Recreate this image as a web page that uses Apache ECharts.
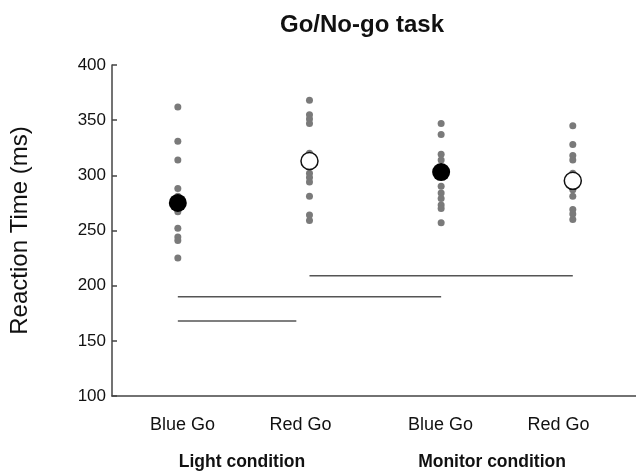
<!DOCTYPE html>
<html>
<head>
<meta charset="utf-8">
<script src="https://cdn.jsdelivr.net/npm/echarts@6/dist/echarts.min.js"></script>
<style>html,body{margin:0;padding:0;background:#fff}#c{width:636px;height:472px}</style>
</head>
<body>
<div id="c"></div>
<script>
// ---- data ----
var categories = ['Blue Go', 'Red Go', 'Blue Go', 'Red Go'];
var groups = ['Light condition', 'Monitor condition'];
var yTicks = [100, 150, 200, 250, 300, 350, 400];
var lightBlue = [362, 331, 314, 288, 281, 267, 252, 244, 241, 225];
var lightRed = [368, 355, 351, 347, 320, 302, 298, 294, 281, 264, 259];
var monitorBlue = [347, 337, 319, 314, 290, 284, 279, 273, 270, 257];
var monitorRed = [345, 328, 318, 314, 302, 287, 281, 269, 265, 260];
var means = [275, 313, 303, 295];
// comparison bars: [fromIndex, toIndex, value]
var bars = [[1, 3, 209], [0, 2, 190], [0, 0.9, 168]];

var individual = [lightBlue, lightRed, monitorBlue, monitorRed];
var FONT = 'Liberation Sans, Arial, sans-serif';

var series = [];
individual.forEach(function (arr, i) {
  series.push({
    type: 'scatter', xAxisIndex: 0, yAxisIndex: 0,
    symbolSize: 7, itemStyle: { color: '#7a7a7a', opacity: 1 },
    data: arr.map(function (v) { return [i, v]; }),
    z: 2
  });
});
bars.forEach(function (b) {
  series.push({
    type: 'line', xAxisIndex: 0, yAxisIndex: 0, symbol: 'none',
    lineStyle: { color: '#555', width: 1.5 },
    data: [[b[0], b[2]], [b[1], b[2]]], z: 1
  });
});
series.push({
  type: 'scatter', xAxisIndex: 0, yAxisIndex: 0, symbolSize: 18,
  itemStyle: { color: '#000', opacity: 1 },
  data: means.map(function (v, i) { return [i, v]; }).filter(function (d) { return d[0] % 2 === 0; }),
  z: 5
});
series.push({
  type: 'scatter', xAxisIndex: 0, yAxisIndex: 0, symbolSize: 17,
  itemStyle: { color: '#fff', borderColor: '#111', borderWidth: 1.5, opacity: 1 },
  data: means.map(function (v, i) { return [i, v]; }).filter(function (d) { return d[0] % 2 === 1; }),
  z: 5
});

var catPad = [[0, 0, 0, 10], [0, 16, 0, 0], [0, 0, 0, 2], [0, 24, 0, 0]];
var chart = echarts.init(document.getElementById('c'), null, { renderer: 'canvas' });
chart.setOption({
  animation: false,
  backgroundColor: '#fff',
  title: {
    text: 'Go/No-go task', left: 357, top: 8, textAlign: 'center',
    textStyle: { fontFamily: FONT, fontSize: 24, fontWeight: 'bold', color: '#111' }
  },
  grid: { left: 112, right: 0, top: 65, bottom: 76, containLabel: false },
  xAxis: [
    {
      type: 'value', min: -0.5, max: 3.48, position: 'bottom',
      axisLine: { show: true, onZero: false, lineStyle: { color: '#444', width: 1.5 } },
      axisTick: { show: false }, axisLabel: { show: false }, splitLine: { show: false }
    },
    {
      type: 'category', data: categories, position: 'bottom',
      axisLine: { show: false }, axisTick: { show: false }, splitLine: { show: false },
      axisLabel: {
        margin: 20, fontFamily: FONT, fontSize: 18, color: '#111',
        formatter: function (v, i) { return '{c' + i + '|' + v + '}'; },
        rich: {
          c0: { fontFamily: FONT, fontSize: 18, color: '#111', padding: catPad[0] },
          c1: { fontFamily: FONT, fontSize: 18, color: '#111', padding: catPad[1] },
          c2: { fontFamily: FONT, fontSize: 18, color: '#111', padding: catPad[2] },
          c3: { fontFamily: FONT, fontSize: 18, color: '#111', padding: catPad[3] }
        }
      }
    },
    {
      type: 'category', data: groups, position: 'bottom',
      axisLine: { show: false }, axisTick: { show: false }, splitLine: { show: false },
      axisLabel: {
        margin: 57, fontFamily: FONT, fontSize: 17.5, fontWeight: 'bold', color: '#111',
        formatter: function (v, i) { return '{g' + i + '|' + v + '}'; },
        rich: {
          g0: { fontFamily: FONT, fontSize: 17.5, fontWeight: 'bold', color: '#111', padding: [0, 2, 0, 0] },
          g1: { fontFamily: FONT, fontSize: 17.5, fontWeight: 'bold', color: '#111', padding: [0, 26, 0, 0] }
        }
      }
    }
  ],
  yAxis: {
    type: 'value', min: yTicks[0], max: yTicks[yTicks.length - 1], interval: 50,
    name: 'Reaction Time (ms)', nameLocation: 'middle', nameRotate: 90, nameGap: 80,
    nameTextStyle: { fontFamily: FONT, fontSize: 24, color: '#111' },
    axisLine: { show: true, onZero: false, lineStyle: { color: '#444', width: 1.5 } },
    axisTick: { show: true, inside: true, length: 5, lineStyle: { color: '#444', width: 1.5 } },
    axisLabel: { margin: 6, fontFamily: FONT, fontSize: 17, color: '#111' },
    splitLine: { show: false }
  },
  series: series
});
</script>
</body>
</html>
